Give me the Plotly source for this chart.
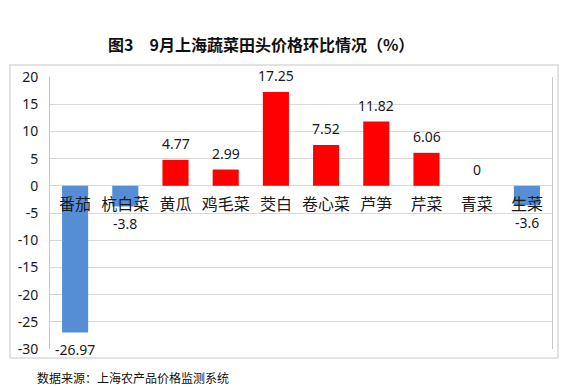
import plotly.graph_objects as go

categories = ["番茄", "杭白菜", "黄瓜", "鸡毛菜", "茭白", "卷心菜", "芦笋", "芹菜", "青菜", "生菜"]
values = [-26.97, -3.8, 4.77, 2.99, 17.25, 7.52, 11.82, 6.06, 0, -3.6]
labels = ["-26.97", "-3.8", "4.77", "2.99", "17.25", "7.52", "11.82", "6.06", "0", "-3.6"]
y_ticks = [20, 15, 10, 5, 0, -5, -10, -15, -20, -25, -30]

RED = "#FF0000"
BLUE = "#558ED5"
FONT = "Noto Sans, Noto Sans CJK SC, sans-serif"

colors = [RED if v > 0 else BLUE for v in values]

fig = go.Figure()
fig.add_trace(go.Bar(x=categories, y=values, marker=dict(color=colors, line=dict(width=0)),
                     hoverinfo="skip", showlegend=False))

for c, v, t in zip(categories, values, labels):
    fig.add_annotation(x=c, y=v, text=t, showarrow=False, xref="x", yref="y",
                       yshift=(-17 if v < 0 else 16),
                       font=dict(family=FONT, size=14, color="#1a1a1a"))

ymin, ymax = -30, 20
fig.update_layout(
    width=564, height=387,
    margin=dict(l=50, r=12, t=77, b=38),
    paper_bgcolor="white", plot_bgcolor="white",
    bargap=0.48,
    font=dict(family=FONT, color="#1a1a1a"),
    xaxis=dict(
        anchor="free", position=(0 - ymin) / (ymax - ymin),
        showline=False, showgrid=False, ticks="", zeroline=False,
        tickfont=dict(family=FONT, size=16, color="#1a1a1a"),
        ticklabelstandoff=7,
    ),
    yaxis=dict(
        range=[ymin, ymax], tickvals=y_ticks, ticktext=[str(v) for v in y_ticks],
        showgrid=True, gridcolor="#D9D9D9", gridwidth=1,
        zeroline=True, zerolinecolor="#D9D9D9", zerolinewidth=1,
        showline=True, linecolor="#C8C8C8", linewidth=1, mirror=True,
        ticks="", ticklabelstandoff=8,
        tickfont=dict(family=FONT, size=14, color="#1a1a1a"),
    ),
)

# outer chart border
fig.add_shape(type="rect", xref="paper", yref="paper",
              x0=(10 - 50) / 502, x1=(558 - 50) / 502,
              y0=(349 - 358) / 272, y1=(349 - 65) / 272,
              line=dict(color="#D9D9D9", width=1.5), fillcolor="rgba(0,0,0,0)", layer="above")

fig.add_annotation(text="<b>图3　9月上海蔬菜田头价格环比情况（%）</b>", xref="paper", yref="paper",
                   x=(261 - 50) / 502, y=(349 - 44) / 272, xanchor="center", yanchor="middle",
                   showarrow=False,
                   font=dict(family="Noto Sans CJK SC, sans-serif", size=16, color="#111111"))

fig.add_annotation(text="数据来源：上海农产品价格监测系统", xref="paper", yref="paper",
                   x=(35 - 50) / 502, y=(349 - 377) / 272, xanchor="left", yanchor="middle",
                   showarrow=False,
                   font=dict(family="Noto Sans CJK SC, sans-serif", size=12, color="#111111"))

fig.write_html("out.html", config={"displayModeBar": False},
               post_script="document.body.style.margin='0px';")
